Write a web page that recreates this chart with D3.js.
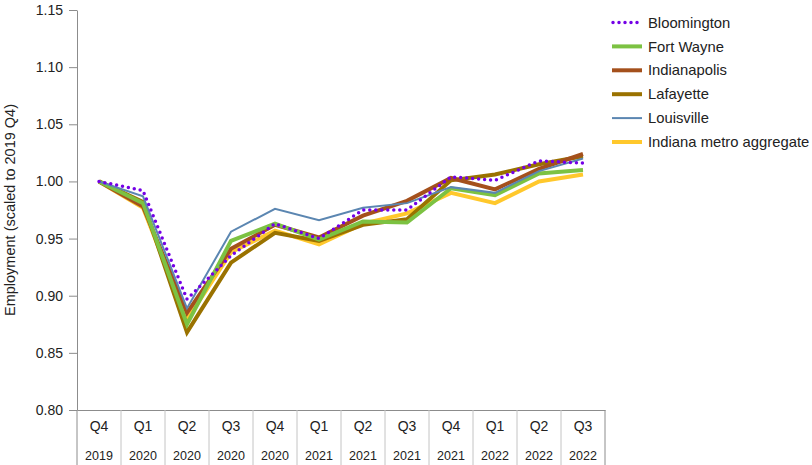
<!DOCTYPE html>
<html><head><meta charset="utf-8">
<script src="https://cdn.jsdelivr.net/npm/d3@7/dist/d3.min.js"></script>
<style>body{margin:0;background:#fff}svg{display:block;font-family:"Liberation Sans",Arial,sans-serif}</style>
</head><body><svg id="c" width="812" height="465"></svg>
<script>
const quarters = ["Q4","Q1","Q2","Q3","Q4","Q1","Q2","Q3","Q4","Q1","Q2","Q3"];
const years = ["2019","2020","2020","2020","2020","2021","2021","2021","2021","2022","2022","2022"];
const yTicks = [0.80,0.85,0.90,0.95,1.00,1.05,1.10,1.15];
const seriesNames = ["Bloomington","Fort Wayne","Indianapolis","Lafayette","Louisville","Indiana metro aggregate"];
const bloomington = [1.000,0.992,0.897,0.935,0.963,0.950,0.975,0.975,1.004,1.001,1.018,1.016];
const fortWayne = [1.000,0.981,0.875,0.948,0.963,0.949,0.965,0.964,0.994,0.988,1.007,1.010];
const indianapolis = [1.000,0.978,0.885,0.941,0.962,0.951,0.970,0.983,1.003,0.993,1.011,1.024];
const lafayette = [1.000,0.982,0.868,0.929,0.955,0.948,0.962,0.967,1.001,1.006,1.015,1.022];
const louisville = [1.000,0.987,0.889,0.956,0.976,0.966,0.977,0.981,0.995,0.990,1.009,1.020];
const indianaAgg = [1.000,0.977,0.879,0.938,0.957,0.945,0.963,0.972,0.990,0.981,1.000,1.006];

const colors = {"Bloomington":"#7400e6","Fort Wayne":"#7cc242","Indianapolis":"#a4501c","Lafayette":"#9a7200","Louisville":"#5b86b1","Indiana metro aggregate":"#ffc82c"};
const widths = {"Bloomington":3.5,"Fort Wayne":4,"Indianapolis":4,"Lafayette":4,"Louisville":2,"Indiana metro aggregate":4};
const valuesBy = {"Bloomington":bloomington,"Fort Wayne":fortWayne,"Indianapolis":indianapolis,"Lafayette":lafayette,"Louisville":louisville,"Indiana metro aggregate":indianaAgg};
const drawOrder = ["Indiana metro aggregate","Lafayette","Indianapolis","Fort Wayne","Louisville","Bloomington"];

const svg = d3.select("#c");
const mLeft = 77, mRight = 605, mTop = 10, mBottom = 410;
const x = d3.scaleBand().domain(d3.range(quarters.length)).range([mLeft,mRight]);
const y = d3.scaleLinear().domain([0.80,1.15]).range([mBottom,mTop]);

// y axis
const yAx = svg.append("g").attr("transform",`translate(${mLeft},0)`)
  .call(d3.axisLeft(y).tickValues(yTicks).tickFormat(d3.format(".2f")).tickSizeOuter(0).tickSizeInner(8).tickPadding(6));
yAx.select(".domain").attr("stroke","#8c8c8c");
yAx.selectAll(".tick line").attr("stroke","#8c8c8c");
yAx.selectAll(".tick text").attr("font-size",14).attr("fill","#222").attr("font-family","'Liberation Sans',Arial,sans-serif");

// x axis
const xAx = svg.append("g").attr("transform",`translate(0,${mBottom})`)
  .call(d3.axisBottom(x).tickSize(0).tickFormat(i=>quarters[i]).tickPadding(11));
xAx.select(".domain").attr("stroke","#8c8c8c");
xAx.selectAll(".tick text").attr("font-size",14).attr("fill","#222").attr("font-family","'Liberation Sans',Arial,sans-serif");
// year row
svg.append("g").selectAll("text").data(years).join("text")
  .attr("x",(d,i)=>x(i)+x.bandwidth()/2).attr("y",mBottom+50)
  .attr("text-anchor","middle").attr("font-size",12.5).attr("fill","#222").text(d=>d);
// separators
const seps = d3.range(quarters.length+1).map(i=> i<quarters.length ? x(i) : mRight);
svg.append("g").selectAll("line").data(seps).join("line")
  .attr("x1",d=>d).attr("x2",d=>d).attr("y1",mBottom).attr("y2",465)
  .attr("stroke",(d,i)=> (i===0||i===quarters.length)?"#8c8c8c":"#c4c4c4").attr("stroke-width",1);

// y label
svg.append("text").attr("transform",`translate(15,${(mTop+mBottom)/2}) rotate(-90)`)
  .attr("text-anchor","middle").attr("font-size",14.5).attr("fill","#222")
  .text("Employment (scaled to 2019 Q4)");

// lines
const line = d3.line().x((d,i)=>x(i)+x.bandwidth()/2).y(d=>y(d));
drawOrder.forEach(name=>{
  const p = svg.append("path").datum(valuesBy[name]).attr("d",line)
    .attr("fill","none").attr("stroke",colors[name]).attr("stroke-width",widths[name])
    .attr("stroke-linejoin","miter");
  if(name==="Bloomington") p.attr("stroke-dasharray","0,6").attr("stroke-linecap","round");
});

// legend
const lg = svg.append("g");
seriesNames.forEach((name,i)=>{
  const yy = 22.5 + i*23.9;
  const l = lg.append("line").attr("x1",612).attr("x2",642).attr("y1",yy).attr("y2",yy)
    .attr("stroke",colors[name]).attr("stroke-width",widths[name]);
  if(name==="Bloomington") l.attr("stroke-dasharray","0,6").attr("stroke-linecap","round").attr("x1",613);
  lg.append("text").attr("x",648).attr("y",yy).attr("dy","0.35em").attr("font-size",14.8).attr("fill","#222").text(name);
});
</script></body></html>
